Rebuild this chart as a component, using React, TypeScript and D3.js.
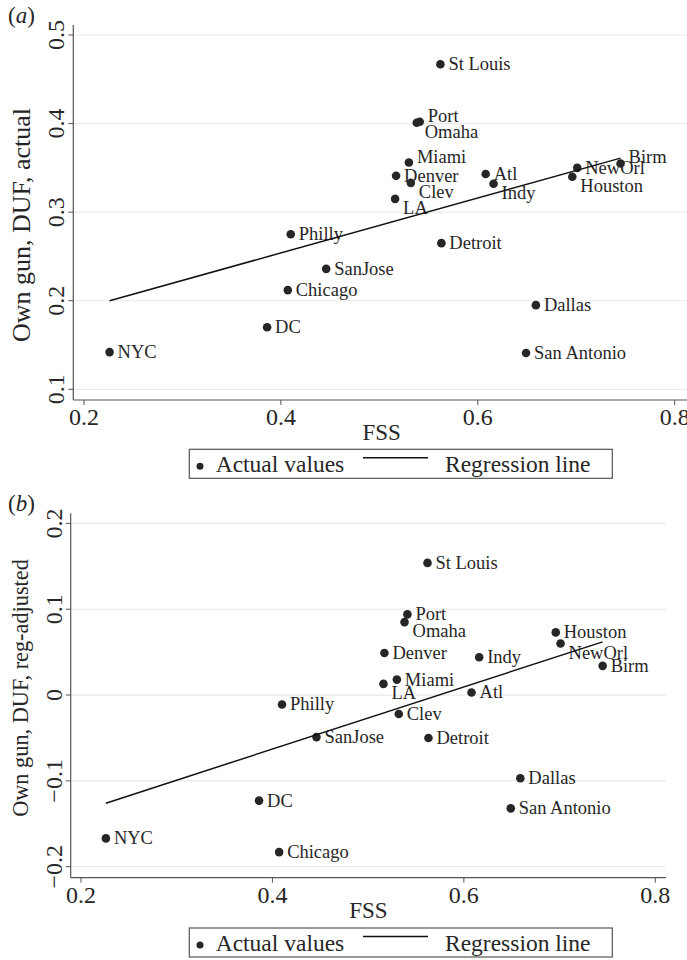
import * as d3 from "d3";
import React from "react";

// cities and values
const cities = ["NYC", "DC", "Chicago", "SanJose", "Philly", "Detroit", "Dallas", "San Antonio", "St Louis", "Port", "Omaha", "Miami", "Denver", "Clev", "LA", "Atl", "Indy", "NewOrl", "Houston", "Birm"];
const fss = [0.226, 0.386, 0.407, 0.446, 0.41, 0.563, 0.659, 0.649, 0.562, 0.541, 0.538, 0.53, 0.517, 0.532, 0.516, 0.608, 0.616, 0.701, 0.696, 0.745];
const dufActual = [0.142, 0.17, 0.212, 0.236, 0.275, 0.265, 0.195, 0.141, 0.467, 0.402, 0.401, 0.356, 0.341, 0.333, 0.315, 0.343, 0.332, 0.35, 0.34, 0.355];
const dufAdjusted = [-0.167, -0.123, -0.183, -0.049, -0.011, -0.05, -0.097, -0.132, 0.154, 0.094, 0.085, 0.018, 0.049, -0.022, 0.013, 0.003, 0.044, 0.06, 0.073, 0.034];

// regression line end points
const fitFss = [0.226, 0.745];
const fitActual = [0.2, 0.361];
const fitAdjusted = [-0.126, 0.062];

const xTicks = [0.2, 0.4, 0.6, 0.8];
const yTicksA = [0.1, 0.2, 0.3, 0.4, 0.5];
const yTicksB = [-0.2, -0.1, 0, 0.1, 0.2];

// marker label clock positions (default 3 = right)
const labelClockA: Record<string, number> = { Port: 2, Omaha: 4, Miami: 2, Clev: 4, LA: 4, Indy: 4, Houston: 4, Birm: 2 };
const labelClockB: Record<string, number> = { Omaha: 4, NewOrl: 4, LA: 4 };

const FONT = "'Liberation Serif', 'Times New Roman', serif";
const INK = "#262626";
const AXIS = "#555";
const GRID = "#eaeaea";

const fmt = (v: number) => (v === 0 ? "0" : String(v).replace("-", "\u2212"));

interface PanelProps {
  tag: string;
  yTitle: string;
  yTitleSize: number;
  yValues: number[];
  fitY: number[];
  yTicks: number[];
  labelClock: Record<string, number>;
  xRange: [number, number]; // pixel positions of x=0.2 and x=0.8
  yRange: [number, number]; // pixel positions of first and last y tick
  plot: { left: number; right: number; top: number; bottom: number };
  yTitlePos: [number, number];
  tagY: number;
  legendY: number; // top of legend box
}

const Panel: React.FC<PanelProps> = (p) => {
  const x = d3.scaleLinear().domain([0.2, 0.8]).range(p.xRange);
  const y = d3
    .scaleLinear()
    .domain([p.yTicks[0], p.yTicks[p.yTicks.length - 1]])
    .range(p.yRange);
  const { left, right, top, bottom } = p.plot;
  const line = d3
    .line<number>()
    .x((_, i) => x(fitFss[i]))
    .y((d) => y(d));

  const dy = (c: number) => (c === 2 ? -6 : c === 4 ? 9 : 0);
  const midX = (left + right) / 2;
  const lg = p.legendY;

  return (
    <g>
      <text x={8} y={p.tagY} fontSize={23} fill={INK}>
        (<tspan fontStyle="italic">{p.tag}</tspan>)
      </text>

      {/* grid lines */}
      {p.yTicks.map((t) => (
        <line key={"g" + t} x1={left} x2={right} y1={y(t)} y2={y(t)} stroke={GRID} strokeWidth={1.2} />
      ))}

      {/* axes */}
      <line x1={left} x2={left} y1={top} y2={bottom} stroke={AXIS} strokeWidth={1.2} />
      <line x1={left} x2={right} y1={bottom} y2={bottom} stroke={AXIS} strokeWidth={1.2} />
      {p.yTicks.map((t) => (
        <g key={"y" + t}>
          <line x1={left - 5} x2={left} y1={y(t)} y2={y(t)} stroke={AXIS} strokeWidth={1} />
          <text
            transform={`translate(${left - 9},${y(t)}) rotate(-90)`}
            textAnchor="middle"
            fontSize={24}
            fill={INK}
          >
            {fmt(t)}
          </text>
        </g>
      ))}
      {xTicks.map((t) => (
        <g key={"x" + t}>
          <line x1={x(t)} x2={x(t)} y1={bottom} y2={bottom + 5} stroke={AXIS} strokeWidth={1} />
          <text x={x(t)} y={bottom + 25} textAnchor="middle" fontSize={24} fill={INK}>
            {fmt(t)}
          </text>
        </g>
      ))}
      <text x={midX} y={bottom + 40} textAnchor="middle" fontSize={23} fill={INK}>
        FSS
      </text>
      <text
        transform={`translate(${p.yTitlePos[0]},${p.yTitlePos[1]}) rotate(-90)`}
        textAnchor="middle"
        fontSize={p.yTitleSize}
        fill={INK}
      >
        {p.yTitle}
      </text>

      {/* points and labels */}
      {cities.map((c, i) => {
        const cx = x(fss[i]);
        const cy = y(p.yValues[i]);
        const clock = p.labelClock[c] ?? 3;
        return (
          <g key={c}>
            <circle cx={cx} cy={cy} r={4.3} fill={INK} />
            <text x={cx + 8} y={cy + dy(clock) + 6} fontSize={18.5} fill={INK}>
              {c}
            </text>
          </g>
        );
      })}

      {/* regression line */}
      <path d={line(p.fitY) ?? ""} fill="none" stroke="#111" strokeWidth={1.5} />

      {/* legend */}
      <rect x={189.3} y={lg} width={423} height={29} fill="white" stroke={AXIS} strokeWidth={1.2} />
      <circle cx={200} cy={lg + 17} r={3.5} fill={INK} />
      <text x={215.7} y={lg + 22.5} fontSize={23.5} fill={INK}>
        Actual values
      </text>
      <line x1={363} x2={428} y1={lg + 8.5} y2={lg + 8.5} stroke="#111" strokeWidth={1.5} />
      <text x={445} y={lg + 22.5} fontSize={23.5} fill={INK}>
        Regression line
      </text>
    </g>
  );
};

export default function App() {
  return (
    <svg
      width={687}
      height={960}
      style={{ position: "absolute", left: 0, top: 0, background: "white" }}
      fontFamily={FONT}
    >
      <Panel
        tag="a"
        yTitle="Own gun, DUF, actual"
        yTitleSize={26}
        yValues={dufActual}
        fitY={fitActual}
        yTicks={yTicksA}
        labelClock={labelClockA}
        xRange={[84, 674.7]}
        yRange={[389.3, 35]}
        plot={{ left: 73.3, right: 690, top: 25, bottom: 400 }}
        yTitlePos={[30, 225]}
        tagY={23}
        legendY={449.3}
      />
      <Panel
        tag="b"
        yTitle="Own gun, DUF, reg-adjusted"
        yTitleSize={22.3}
        yValues={dufAdjusted}
        fitY={fitAdjusted}
        yTicks={yTicksB}
        labelClock={labelClockB}
        xRange={[81, 655.3]}
        yRange={[866.7, 523.4]}
        plot={{ left: 70.7, right: 666, top: 513.3, bottom: 877.7 }}
        yTitlePos={[28, 688]}
        tagY={511}
        legendY={928}
      />
    </svg>
  );
}
